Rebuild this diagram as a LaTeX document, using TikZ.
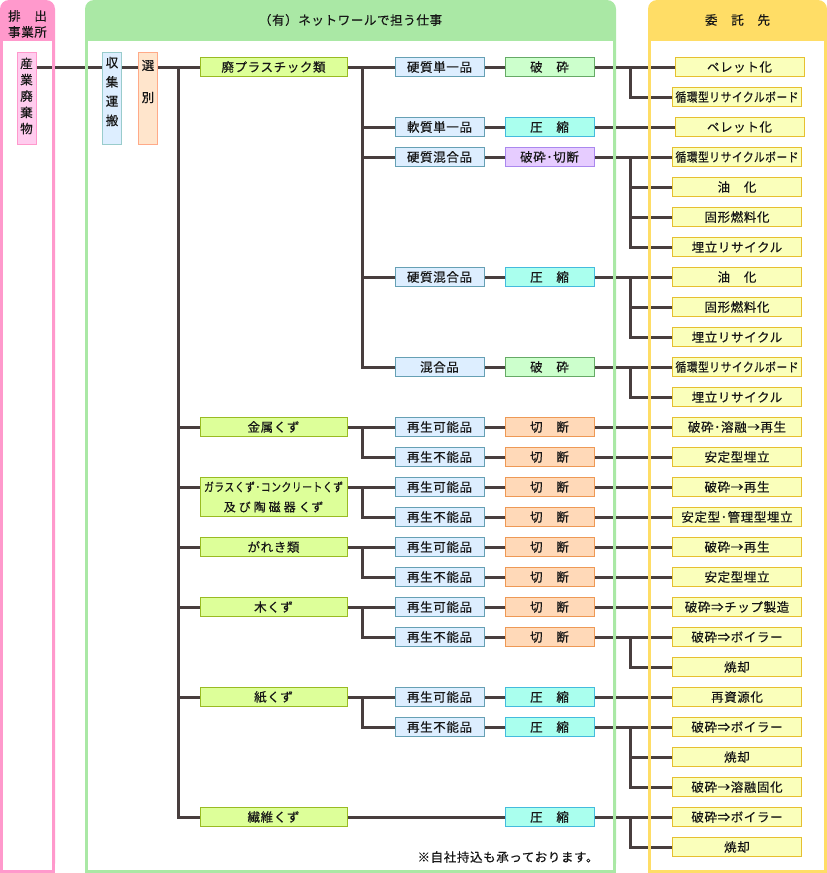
\documentclass[tikz,border=0pt]{standalone}
\usepackage{fontspec}
\setmainfont{Noto Sans CJK JP}[LetterSpace=5,FakeBold=0.4]
\definecolor{pinkc}{HTML}{FF99CC}
\definecolor{greenc}{HTML}{AAE8A5}
\definecolor{yellowc}{HTML}{FFDD66}
\definecolor{lineC}{HTML}{483E3E}
\definecolor{txtC}{HTML}{161616}
\definecolor{catF}{HTML}{DDFF99}
\definecolor{catD}{HTML}{99BB22}
\definecolor{subF}{HTML}{DDEEFF}
\definecolor{subD}{HTML}{66A0B4}
\definecolor{crF}{HTML}{CCFFCC}
\definecolor{crD}{HTML}{66AA66}
\definecolor{coF}{HTML}{AAFFEE}
\definecolor{coD}{HTML}{44BBDD}
\definecolor{mxF}{HTML}{E6CCFF}
\definecolor{mxD}{HTML}{AA88EE}
\definecolor{cuF}{HTML}{FFD9B8}
\definecolor{cuD}{HTML}{EE9955}
\definecolor{reF}{HTML}{FAFFBB}
\definecolor{reD}{HTML}{E6C030}
\definecolor{kyoF}{HTML}{FFCCEE}
\definecolor{kyoD}{HTML}{FF99CC}
\definecolor{shuF}{HTML}{DDEEFF}
\definecolor{shuD}{HTML}{99CCCC}
\definecolor{senF}{HTML}{FFE5CC}
\definecolor{senD}{HTML}{FFAA88}
\newcommand\myfs{\fontsize{12.5}{15}\selectfont}
\newcommand\narrow[1]{\scalebox{0.86}[1]{#1}}
\pgfdeclarelayer{panel}
\pgfdeclarelayer{lines}
\pgfsetlayers{panel,lines,main}
\begin{document}
\begin{tikzpicture}[x=1pt,y=-1pt,
  conn/.style={line width=3pt, draw=lineC},
  box/.style={draw, line width=1pt, minimum height=19pt, inner sep=0pt, font=\myfs, text=txtC},
  catbox/.style={box, fill=catF, draw=catD, minimum width=147pt},
  subbox/.style={box, fill=subF, draw=subD, minimum width=89pt},
  crush/.style={box, fill=crF, draw=crD, minimum width=89pt},
  comp/.style={box, fill=coF, draw=coD, minimum width=89pt},
  mixc/.style={box, fill=mxF, draw=mxD, minimum width=89pt},
  cut/.style={box, fill=cuF, draw=cuD, minimum width=89pt},
  res/.style={box, fill=reF, draw=reD, minimum width=129pt},
  vbox/.style={draw, line width=1pt, minimum width=19pt, minimum height=92pt, inner sep=0pt},
  vtext/.style={align=center, inner sep=0pt, text=txtC},
  head/.style={font=\myfs, text=txtC, inner sep=0pt},
  border/.style={line width=3pt}
]
\useasboundingbox (0,0) rectangle (827,873);
% panels
\begin{pgfonlayer}{panel}
\fill[pinkc, rounded corners=9pt] (0,0) rectangle (55,872.5);
\fill[pinkc] (0,800) rectangle (55,872.5);
\fill[white] (3,41) rectangle (52,869.5);
\fill[greenc, rounded corners=9pt] (85,0) rectangle (616,872.5);
\fill[greenc] (85,800) rectangle (616,872.5);
\fill[white] (88,41) rectangle (613,869.5);
\fill[yellowc, rounded corners=9pt] (648,0) rectangle (827,872.5);
\fill[yellowc] (648,800) rectangle (827,872.5);
\fill[white] (651,41) rectangle (824,869.5);
\end{pgfonlayer}
% headers
\node[head] (h1a) at (27.5,16) {排　出};
\node[head] (h1b) at (27.5,32) {事業所};
\node[head] (h2) at (350.5,20) {（有）ネットワールで担う仕事};
\node[head] (h3) at (737.5,20) {委　託　先};
\node[head] (note) at (508,857) {※自社持込も承っております。};

% left vertical boxes
\node[vbox, fill=kyoF, draw=kyoD] (kyo) at (26.5,98.5) {};
\node[vbox, fill=shuF, draw=shuD] (shu) at (112,98.5) {};
\node[vbox, fill=senF, draw=senD] (sen) at (148,98.5) {};
\node[vtext, font={\fontsize{12.5}{16.3}\selectfont}] (kyot) at (26.5,96) {産\\業\\廃\\棄\\物};
\node[vtext, font={\fontsize{12.5}{19.3}\selectfont}] (shut) at (112,91.5) {収\\集\\運\\搬};
\node[vtext, font={\fontsize{12.5}{32}\selectfont}] (sent) at (148,81.5) {選\\別};

% categories
\node[catbox] (c1) at (273.5,67) {廃プラスチック類};
\node[catbox] (c2) at (273.5,427) {金属くず};
\node[catbox, minimum height=39pt, align=center, font={\fontsize{12}{20}\selectfont}] (c3) at (273.5,497) {\scalebox{0.82}[1]{ガラスくず･コンクリートくず}\\及\kern3pt び\kern3pt 陶\kern3pt 磁\kern3pt 器\kern3pt くず};
\node[catbox] (c4) at (273.5,547) {がれき類};
\node[catbox] (c5) at (273.5,607) {木くず};
\node[catbox] (c6) at (273.5,697) {紙くず};
\node[catbox] (c7) at (273.5,817) {繊維くず};

% sub items
\node[subbox] (s1) at (439.5,67) {硬質単一品};
\node[subbox] (s2) at (439.5,127) {軟質単一品};
\node[subbox] (s3) at (439.5,157) {硬質混合品};
\node[subbox] (s4) at (439.5,277) {硬質混合品};
\node[subbox] (s5) at (439.5,367) {混合品};
\node[subbox] (s6) at (439.5,427) {再生可能品};
\node[subbox] (s7) at (439.5,457) {再生不能品};
\node[subbox] (s8) at (439.5,487) {再生可能品};
\node[subbox] (s9) at (439.5,517) {再生不能品};
\node[subbox] (s10) at (439.5,547) {再生可能品};
\node[subbox] (s11) at (439.5,577) {再生不能品};
\node[subbox] (s12) at (439.5,607) {再生可能品};
\node[subbox] (s13) at (439.5,637) {再生不能品};
\node[subbox] (s14) at (439.5,697) {再生可能品};
\node[subbox] (s15) at (439.5,727) {再生不能品};

% processes
\node[crush] (p1) at (549.5,67) {破　砕};
\node[comp] (p2) at (549.5,127) {圧　縮};
\node[mixc] (p3) at (549.5,157) {破砕･切断};
\node[comp] (p4) at (549.5,277) {圧　縮};
\node[crush] (p5) at (549.5,367) {破　砕};
\node[cut] (p6) at (549.5,427) {切　断};
\node[cut] (p7) at (549.5,457) {切　断};
\node[cut] (p8) at (549.5,487) {切　断};
\node[cut] (p9) at (549.5,517) {切　断};
\node[cut] (p10) at (549.5,547) {切　断};
\node[cut] (p11) at (549.5,577) {切　断};
\node[cut] (p12) at (549.5,607) {切　断};
\node[cut] (p13) at (549.5,637) {切　断};
\node[comp] (p14) at (549.5,697) {圧　縮};
\node[comp] (p15) at (549.5,727) {圧　縮};
\node[comp] (p16) at (549.5,817) {圧　縮};

% results
\node[res] (r1) at (739.5,67) {ペレット化};
\node[res] (r2) at (737,97) {\narrow{循環型リサイクルボード}};
\node[res] (r3) at (739.5,127) {ペレット化};
\node[res] (r4) at (737,157) {\narrow{循環型リサイクルボード}};
\node[res] (r5) at (737,187) {油　化};
\node[res] (r6) at (737,217) {固形燃料化};
\node[res] (r7) at (737,247) {埋立リサイクル};
\node[res] (r8) at (737,277) {油　化};
\node[res] (r9) at (737,307) {固形燃料化};
\node[res] (r10) at (737,337) {埋立リサイクル};
\node[res] (r11) at (737,367) {\narrow{循環型リサイクルボード}};
\node[res] (r12) at (737,397) {埋立リサイクル};
\node[res] (r13) at (737,427) {破砕･溶融→再生};
\node[res] (r14) at (737,457) {安定型埋立};
\node[res] (r15) at (737,487) {破砕→再生};
\node[res] (r16) at (737,517) {安定型･管理型埋立};
\node[res] (r17) at (737,547) {破砕→再生};
\node[res] (r18) at (737,577) {安定型埋立};
\node[res] (r19) at (737,607) {破砕⇒チップ製造};
\node[res] (r20) at (737,637) {破砕⇒ボイラー};
\node[res] (r21) at (737,667) {焼却};
\node[res] (r22) at (737,697) {再資源化};
\node[res] (r23) at (737,727) {破砕⇒ボイラー};
\node[res] (r24) at (737,757) {焼却};
\node[res] (r25) at (737,787) {破砕→溶融固化};
\node[res] (r26) at (737,817) {破砕⇒ボイラー};
\node[res] (r27) at (737,847) {焼却};

% connectors
\begin{pgfonlayer}{lines}
\draw[conn] (kyo.east |- c1.west) -- (shu.west |- c1.west);
\draw[conn] (shu.east |- c1.west) -- (sen.west |- c1.west);
\draw[conn] (sen.east |- c1.west) -- (c1.west);
\coordinate (tr) at (178.5,67);
\draw[conn] (tr) |- (c7.west);
\foreach \c in {c2,c4,c5,c6} \draw[conn] (tr |- \c.west) -- (\c.west);
\draw[conn] (tr |- s8.west) -- (c3.west |- s8.west);
% category -> items
\draw[conn] (c1.east) -- (s1.west);
\foreach \s in {s2,s3,s4,s5} \draw[conn] (c1.east) -- ++(14.5,0) |- (\s.west);
\draw[conn] (c2.east) -- (s6.west);
\draw[conn] (c2.east) -- ++(14.5,0) |- (s7.west);
\draw[conn] (c3.east |- s8.west) -- (s8.west);
\draw[conn] (c3.east |- s8.west) -- ++(14.5,0) |- (s9.west);
\draw[conn] (c4.east) -- (s10.west);
\draw[conn] (c4.east) -- ++(14.5,0) |- (s11.west);
\draw[conn] (c5.east) -- (s12.west);
\draw[conn] (c5.east) -- ++(14.5,0) |- (s13.west);
\draw[conn] (c6.east) -- (s14.west);
\draw[conn] (c6.east) -- ++(14.5,0) |- (s15.west);
\draw[conn] (c7.east) -- (p16.west);
% items -> processes
\foreach \i in {1,...,15} \draw[conn] (s\i.east) -- (p\i.west);
% processes -> results
\foreach \p/\r in {p1/r1,p2/r3,p3/r4,p4/r8,p5/r11,p6/r13,p7/r14,p8/r15,p9/r16,p10/r17,p11/r18,p12/r19,p13/r20,p14/r22,p15/r23,p16/r26}
  \draw[conn] (\p.east) -- (\r.west);
\foreach \p/\r in {p1/r2,p3/r5,p3/r6,p3/r7,p4/r9,p4/r10,p5/r12,p13/r21,p15/r24,p15/r25,p16/r27}
  \draw[conn] (\p.east) -- ++(36,0) |- (\r.west);
% panel side borders over the connectors
\draw[border, pinkc] (1.5,41) -- (1.5,872.5);
\draw[border, pinkc] (53.5,41) -- (53.5,872.5);
\draw[border, greenc] (86.5,41) -- (86.5,872.5);
\draw[border, greenc] (614.5,41) -- (614.5,872.5);
\draw[border, yellowc] (649.5,41) -- (649.5,872.5);
\draw[border, yellowc] (825.5,41) -- (825.5,872.5);
\end{pgfonlayer}
\end{tikzpicture}
\end{document}
